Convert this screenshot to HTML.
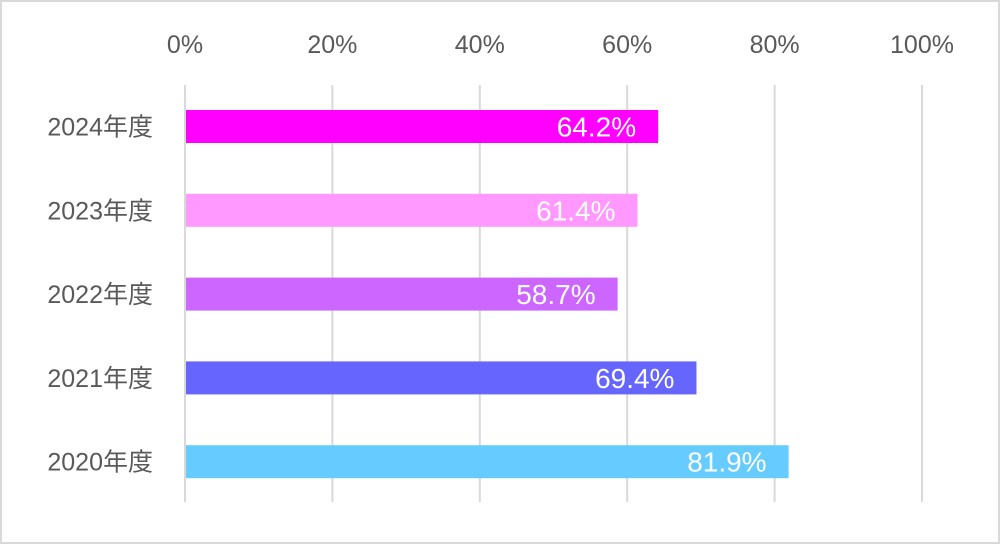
<!DOCTYPE html>
<html><head><meta charset="utf-8">
<style>
html,body{margin:0;padding:0;background:#fff}
svg{display:block}
text{font-family:"Liberation Sans","Noto Sans CJK JP",sans-serif}
</style></head>
<body>
<svg id="chart" width="1000" height="544" viewBox="0 0 1000 544">
<rect x="1" y="1" width="998" height="542" fill="#fff" stroke="#d9d9d9" stroke-width="2"/>
<g id="grid"></g><g id="bars"></g><g id="labels"></g>
</svg>
<script>
const categories = ["2024年度","2023年度","2022年度","2021年度","2020年度"];
const values = [64.2, 61.4, 58.7, 69.4, 81.9];
const colors = ["#ff00ff","#ff99ff","#cc66ff","#6666ff","#66ccff"];
const ticks = [0,20,40,60,80,100];
const tickLabels = ["0%","20%","40%","60%","80%","100%"];
const NS="http://www.w3.org/2000/svg";
const x0=185, x1=922, yTop=85, yBot=502, rowH=83.8, firstCenter=126.5, barH=33;
const xs=v=>x0+(v/100)*(x1-x0);
const yc=i=>firstCenter+i*rowH;
function mk(t,a,p){const e=document.createElementNS(NS,t);for(const k in a)e.setAttribute(k,a[k]);p.appendChild(e);return e;}
const grid=document.getElementById('grid'),bars=document.getElementById('bars'),labels=document.getElementById('labels');
ticks.forEach((t,i)=>{
  const l=mk('line',{x1:xs(t),x2:xs(t),y1:yTop,y2:yBot,stroke:'#d9d9d9','stroke-width':2},grid);
  
  
  const tx=mk('text',{x:xs(t),y:53,'text-anchor':'middle','font-size':25,fill:'#595959'},labels);
  tx.textContent=tickLabels[i];
  
  
});
categories.forEach((c,i)=>{
  const r=mk('rect',{x:x0+1,y:yc(i)-barH/2,width:xs(values[i])-x0-1,height:barH,fill:colors[i]},bars);
  
  
  const cl=mk('text',{x:153,y:yc(i)+9,'text-anchor':'end','font-size':25,fill:'#595959'},labels);
  cl.textContent=c;
  
  
  const vl=mk('text',{x:xs(values[i])-22,y:yc(i)+10,'text-anchor':'end','font-size':28,fill:'#ffffff'},labels);
  vl.textContent=values[i].toFixed(1)+'%';
  
  
});
</script>
</body></html>
